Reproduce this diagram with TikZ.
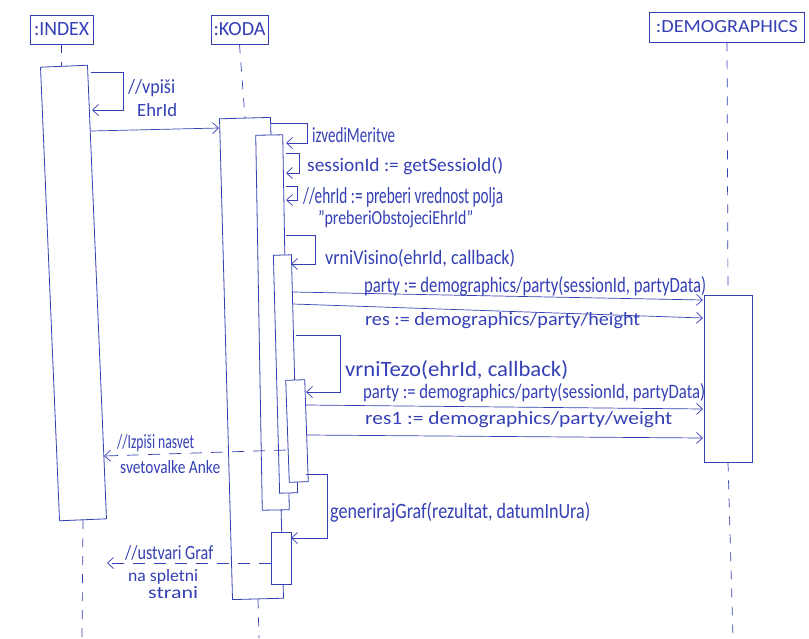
\documentclass[tikz,border=0pt]{standalone}
\usepackage{fontspec}
\setmainfont{Carlito}
\usetikzlibrary{arrows.meta,calc}
\definecolor{ink}{RGB}{52,64,180}
\newcommand\tx[3]{\resizebox{#1pt}{#2pt}{#3}}
\begin{document}
\begin{tikzpicture}[x=1pt,y=-1pt,
  hdr/.style={draw=ink, line width=0.8pt, inner sep=0pt, text=ink},
  act/.style={draw=ink, fill=white, line width=0.8pt, inner sep=0pt},
  life/.style={draw=ink, line width=0.7pt, dash pattern=on 9pt off 9pt},
  msg/.style={draw=ink, line width=0.7pt, -{Straight Barb[length=6pt,width=11pt]}},
  ret/.style={msg, dash pattern=on 12pt off 9pt},
  lbl/.style={text=ink, inner sep=0pt, anchor=west}]
\fill[white] (0,0) rectangle (809,638);
\useasboundingbox (0,0) rectangle (809,638);

% headers
\node[hdr, minimum width=63pt, minimum height=29pt] (idx) at (61.5,29.5) {\tx{55}{13}{:INDEX}};
\node[hdr, minimum width=57pt, minimum height=29pt] (koda) at (239.5,29.5) {\tx{52}{13}{:KODA}};
\node[hdr, minimum width=155pt, minimum height=30pt] (demo) at (727,27) {\tx{142}{12}{:DEMOGRAPHICS}};

% activations
\node[act, minimum width=47pt, minimum height=454pt, rotate=2.4] (idxact) at (73.5,293) {};
\node[act, minimum width=51pt, minimum height=481pt, rotate=1.55] (kodaact) at (251.5,358.5) {};
\node[act, minimum width=27pt, minimum height=375pt, rotate=1] (bar2) at (272.5,322.5) {};
\node[act, minimum width=18pt, minimum height=238pt, rotate=1.5] (bar3) at (285.5,374) {};
\node[act, minimum width=19pt, minimum height=102pt, rotate=2] (bar4) at (297,431) {};
\node[act, minimum width=20pt, minimum height=52pt] (bar5) at (281,558) {};
\node[act, minimum width=48pt, minimum height=167pt] (demoact) at (728,378.5) {};

% lifelines
\coordinate (idxB) at (82,638);
\coordinate (kodaB) at (259,638);
\coordinate (demoB) at (733,638);
\draw[life] (idx.south) -- (idx.south |- idxact.north);
\draw[life] (idxact.south) -- (idxB);
\draw[life] (koda.south) -- (kodaact.north);
\draw[life] (kodaact.south) -- (kodaB);
\draw[life] (demo.south) -- (demoact.north);
\draw[life] (demoact.south) -- (demoB);

% message end points
\coordinate (a0s) at (91,72);   \coordinate (a0e) at (92,110);
\coordinate (a1s) at (91,131);  \coordinate (a1e) at (219,128);
\coordinate (a2s) at (271,123); \coordinate (a2e) at (286,143);
\coordinate (a3s) at (286,153); \coordinate (a3e) at (286,173);
\coordinate (a4s) at (286,186); \coordinate (a4e) at (286,200);
\coordinate (a5s) at (286,235); \coordinate (a5e) at (291,264);
\coordinate (a6s) at (293,292); \coordinate (a6e) at (703,300);
\coordinate (a7s) at (293,304); \coordinate (a7e) at (703,318);
\coordinate (a8s) at (296,335); \coordinate (a8e) at (306,392);
\coordinate (a9s) at (306,405); \coordinate (a9e) at (703,409);
\coordinate (a10s) at (307,435); \coordinate (a10e) at (703,438);
\coordinate (a11s) at (286,450); \coordinate (a11e) at (104,456);
\coordinate (a12s) at (306,474); \coordinate (a12e) at (291,538);
\coordinate (a13s) at (271,563); \coordinate (a13e) at (107,563);

% messages
\draw[msg] (a0s) -- ++(32,0) |- (a0e);
\draw[msg] (a1s) -- (a1e);
\draw[msg] (a2s) -- ++(36,0) |- (a2e);
\draw[msg] (a3s) -- ++(13,0) |- (a3e);
\draw[msg] (a4s) -- ++(11,0) |- (a4e);
\draw[msg] (a5s) -- ++(29,0) |- (a5e);
\draw[msg] (a6s) -- (a6e);
\draw[msg] (a7s) -- (a7e);
\draw[msg] (a8s) -- ++(44,0) |- (a8e);
\draw[msg] (a9s) -- (a9e);
\draw[msg] (a10s) -- (a10e);
\draw[ret] (a11s) -- (a11e);
\draw[msg] (a12s) -- ++(21,0) |- (a12e);
\draw[ret] (a13s) -- (a13e);

% labels
\node[lbl] (l0a) at (128,88) {\tx{47}{14}{//vpiši}};
\node[lbl] (l0b) at (137,110) {\tx{40}{13}{EhrId}};
\node[lbl] (l2) at (312,135) {\tx{83}{15}{izvediMeritve}};
\node[lbl] (l3) at (307,166) {\tx{196}{14}{sessionId := getSessiold()}};
\node[lbl] (l4a) at (303,197) {\tx{200}{16}{//ehrId := preberi vrednost polja}};
\node[lbl] (l4b) at (318,219) {\tx{155}{14}{"preberiObstojeciEhrId"}};
\node[lbl] (l5) at (325,258) {\tx{190}{15}{vrniVisino(ehrId, callback)}};
\node[lbl] (l6) at (364,286) {\tx{342}{16}{party := demographics/party(sessionId, partyData)}};
\node[lbl] (l7) at (365,321) {\tx{275}{13}{res := demographics/party/height}};
\node[lbl] (l8) at (345,370) {\tx{223}{16}{vrniTezo(ehrId, callback)}};
\node[lbl] (l9) at (363,393) {\tx{342}{15}{party := demographics/party(sessionId, partyData)}};
\node[lbl] (l10) at (365,420) {\tx{307}{13}{res1 := demographics/party/weight}};
\node[lbl] (l11a) at (117,443) {\tx{77}{14}{//Izpiši nasvet}};
\node[lbl] (l11b) at (120,467) {\tx{100}{13}{svetovalke Anke}};
\node[lbl] (l12) at (330,512) {\tx{260}{16}{generirajGraf(rezultat, datumInUra)}};
\node[lbl] (l13a) at (125,553) {\tx{88}{14}{//ustvari Graf}};
\node[lbl] (l13b) at (128,577) {\tx{70}{12}{na spletni}};
\node[lbl] (l13c) at (148,593) {\tx{50}{12}{strani}};
\end{tikzpicture}
\end{document}
